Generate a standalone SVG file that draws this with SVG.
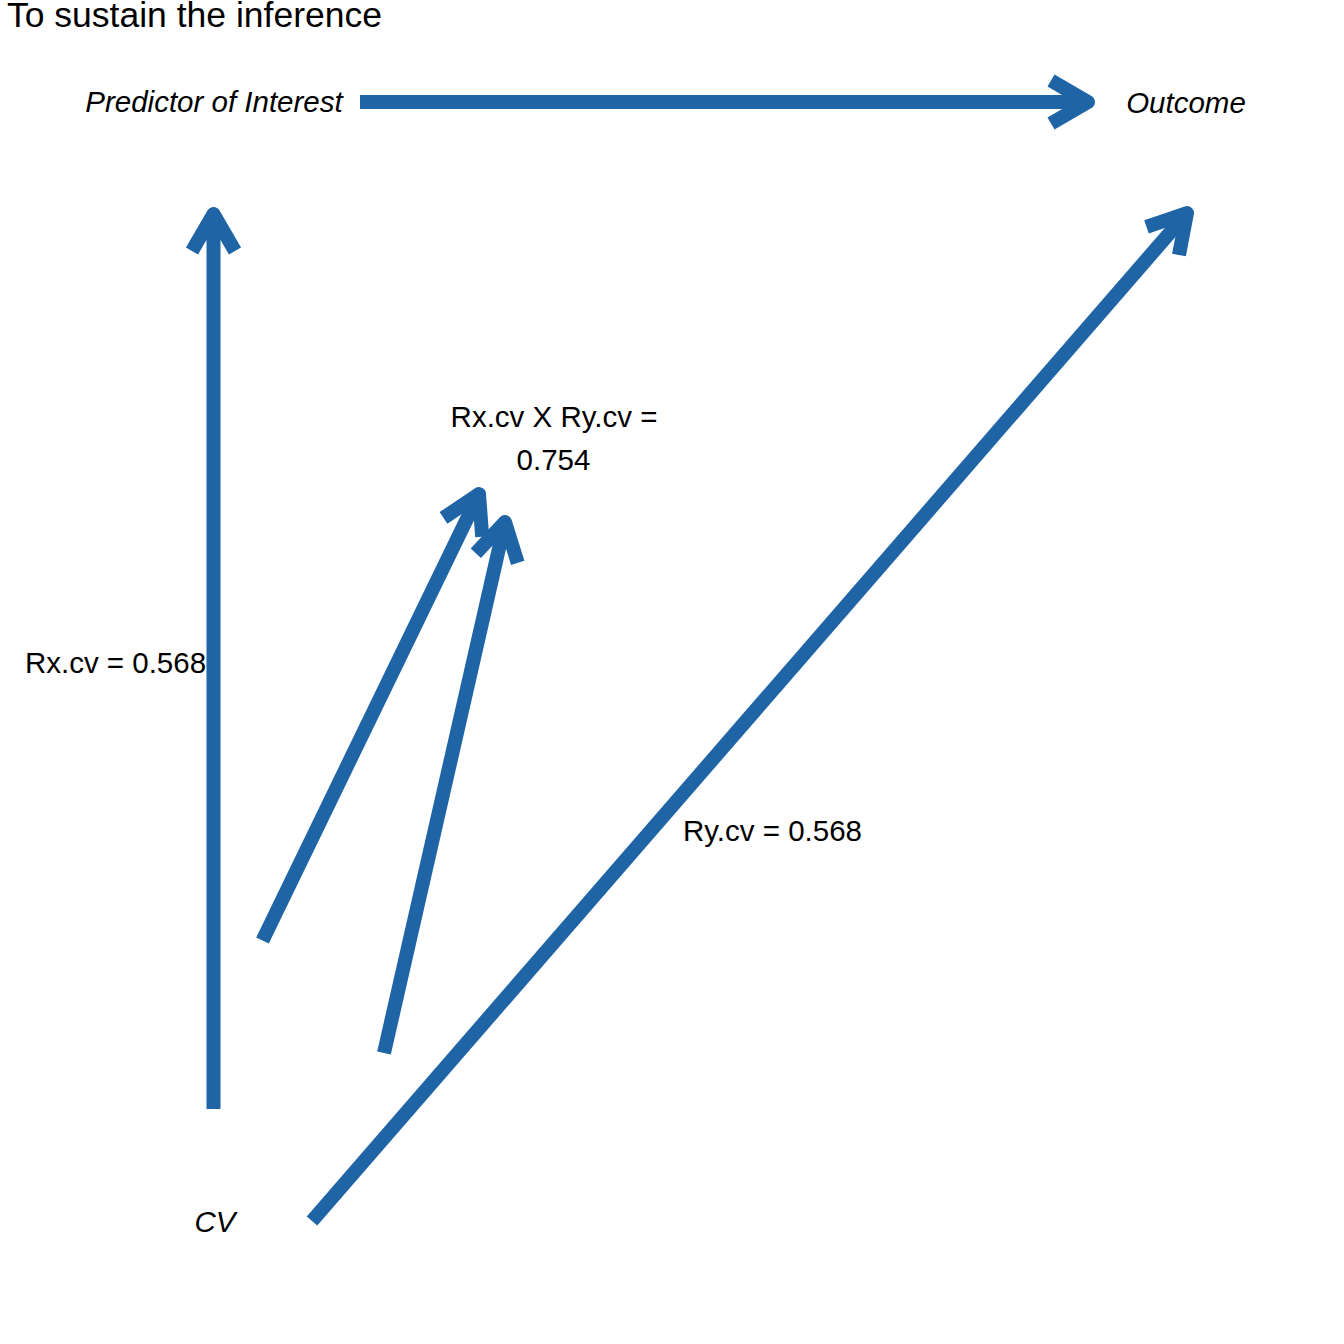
<svg xmlns="http://www.w3.org/2000/svg" width="1344" height="1344" viewBox="0 0 1344 1344">
<style>
.t{font-family:"Liberation Sans",Arial,Helvetica,sans-serif;fill:#000}
.title{font-size:35.5px}
.node{font-size:29.5px;font-style:italic;text-anchor:middle}
.lbl{font-size:29.5px;text-anchor:middle}
.c{fill:none;stroke:#1F64A5;stroke-width:14;stroke-linecap:butt;marker-end:url(#ah)}
</style>
<defs>
<marker id="ah" markerUnits="userSpaceOnUse" orient="auto" overflow="visible" markerWidth="1" markerHeight="1" refX="0" refY="0">
<path d="M-37,-21.5 L0,0 L-37,21.5" fill="none" stroke="#1F64A5" stroke-width="14" stroke-linejoin="round"/>
</marker>
</defs>
<rect width="1344" height="1344" fill="#fff"/>
<text class="t title" x="7" y="27">To sustain the inference</text>
<g id="connectors">
<path class="c" d="M360,102 L1088,102"/>
<path class="c" d="M213.5,1109 L213.5,214"/>
<path class="c" d="M312,1221 L1187,213"/>
<path class="c" d="M262.5,940.5 L479,494"/>
<path class="c" d="M384,1053 L505,522"/>
</g>
<g id="node-predictor"><text class="t node" x="214" y="112">Predictor of Interest</text></g>
<g id="node-outcome"><text class="t node" x="1186" y="113">Outcome</text></g>
<g id="node-cv"><text class="t node" x="215" y="1232">CV</text></g>
<g id="labels">
<text class="t lbl" x="115.5" y="673">Rx.cv = 0.568</text>
<text class="t lbl" x="772.5" y="841">Ry.cv = 0.568</text>
<text class="t lbl" x="554" y="427">Rx.cv X Ry.cv =</text>
<text class="t lbl" x="553.5" y="470">0.754</text>
</g>
</svg>
